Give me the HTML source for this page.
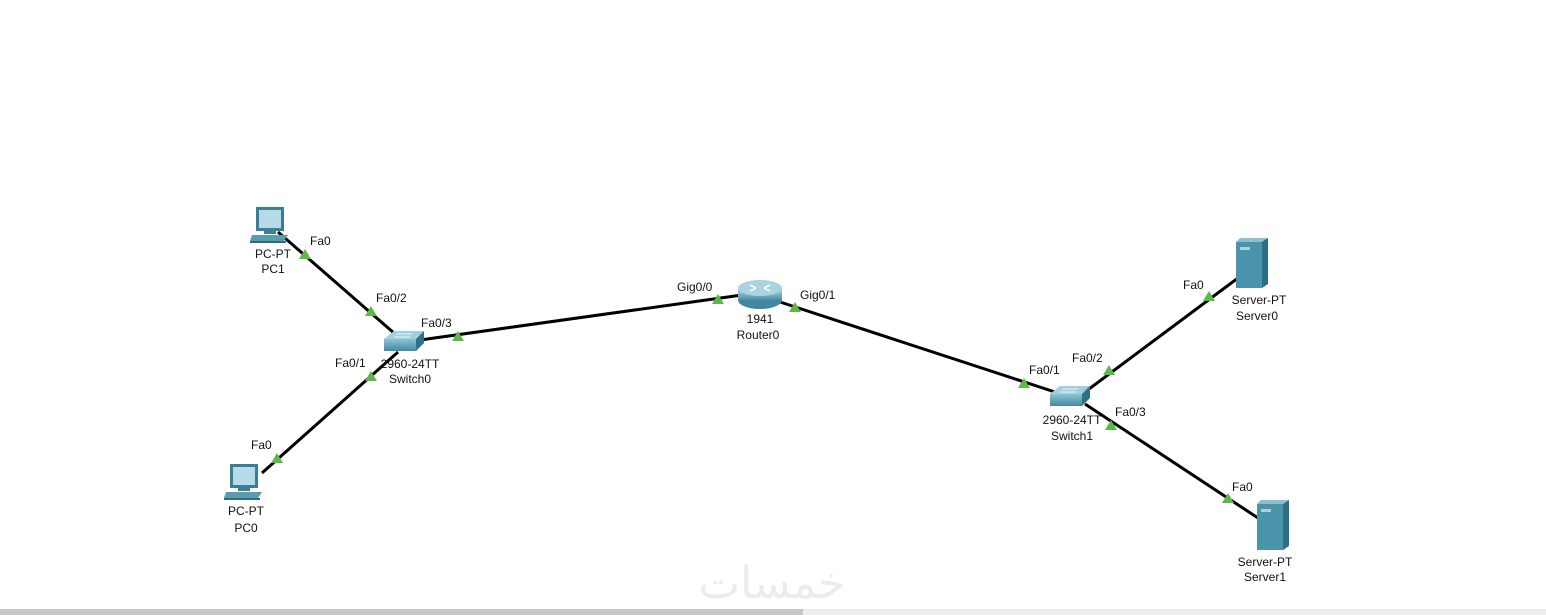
<!DOCTYPE html>
<html><head><meta charset="utf-8"><style>
html,body{margin:0;padding:0;background:#fff;}
svg{display:block;}
text{font-family:"Liberation Sans",Arial,sans-serif;font-size:12px;fill:#111;}
</style></head><body>
<svg width="1546" height="615" viewBox="0 0 1546 615">
<defs>
<linearGradient id="sw" x1="0" y1="0" x2="0" y2="1"><stop offset="0" stop-color="#8fc3d3"/><stop offset="1" stop-color="#3f8aa2"/></linearGradient>
<linearGradient id="rt" x1="0" y1="0" x2="0" y2="1"><stop offset="0" stop-color="#b9dbe5"/><stop offset="1" stop-color="#4b8fa5"/></linearGradient>
<g id="tri"><polygon points="-6,5 6,5 0,-5" fill="#5cb848"/></g>
<g id="pc">
<rect x="6" y="0" width="28" height="24" fill="#3a7f96"/>
<rect x="9" y="3" width="22" height="18" fill="#b7dbe6"/>
<rect x="14" y="24" width="12" height="3" fill="#3a7f96"/>
<polygon points="2,28 38,28 34,34 0,34" fill="#5a9bb0"/>
<rect x="0" y="34" width="36" height="2" fill="#2f6c80"/>
</g>
<g id="srv">
<polygon points="0,4 4,0 32,0 28,4" fill="#8cc0d0"/>
<rect x="0" y="4" width="26" height="46" fill="#4a93ab"/>
<polygon points="26,4 32,0 32,46 26,50" fill="#2b6f85"/>
<rect x="4" y="9" width="10" height="3" fill="#a8d2de"/>
</g>
<g id="swi">
<polygon points="0,8 10,0 40,0 32,8" fill="#9fd0de"/>
<rect x="0" y="8" width="32" height="12" fill="url(#sw)"/>
<polygon points="32,8 40,0 40,12 32,20" fill="#2f7188"/>
<path d="M12,3 h16 M10,6 h16" stroke="#e8f4f8" stroke-width="1"/>
</g>
</defs>
<g stroke="#000" stroke-width="3" fill="none">
<line x1="278" y1="232" x2="402" y2="340"/>
<line x1="420" y1="340" x2="742" y2="295"/>
<line x1="398" y1="352" x2="262" y2="473"/>
<line x1="780" y1="302" x2="1058" y2="393"/>
<line x1="1085" y1="392" x2="1238" y2="278"/>
<line x1="1085" y1="404" x2="1258" y2="518"/>
</g>
<use href="#pc" x="250" y="207"/>
<use href="#pc" x="224" y="464"/>
<use href="#swi" x="384" y="331"/>
<use href="#swi" x="1050" y="386"/>
<use href="#srv" x="1236" y="238"/>
<use href="#srv" x="1257" y="500"/>
<g>
<ellipse cx="760" cy="300" rx="22" ry="9" fill="#3f889f"/>
<rect x="738" y="288" width="44" height="12" fill="url(#rt)"/>
<ellipse cx="760" cy="288" rx="22" ry="8" fill="#a9d3df"/>
<path d="M750,285 l6,3 M770,285 l-6,3 M750,291 l6,-3 M770,291 l-6,-3" stroke="#fff" stroke-width="1.5"/>
</g>
<use href="#tri" x="305" y="254"/>
<use href="#tri" x="371" y="311"/>
<use href="#tri" x="458" y="336"/>
<use href="#tri" x="371" y="376"/>
<use href="#tri" x="277" y="458"/>
<use href="#tri" x="718" y="299"/>
<use href="#tri" x="795" y="307"/>
<use href="#tri" x="1024" y="383"/>
<use href="#tri" x="1109" y="370"/>
<use href="#tri" x="1209" y="296"/>
<use href="#tri" x="1111" y="425"/>
<use href="#tri" x="1228" y="498"/>
<text x="310" y="245">Fa0</text>
<text x="376" y="302">Fa0/2</text>
<text x="421" y="327">Fa0/3</text>
<text x="335" y="367">Fa0/1</text>
<text x="251" y="449">Fa0</text>
<text x="677" y="291">Gig0/0</text>
<text x="800" y="299">Gig0/1</text>
<text x="1029" y="374">Fa0/1</text>
<text x="1072" y="362">Fa0/2</text>
<text x="1183" y="289">Fa0</text>
<text x="1115" y="416">Fa0/3</text>
<text x="1232" y="491">Fa0</text>
<g text-anchor="middle">
<text x="273" y="258">PC-PT</text><text x="273" y="273">PC1</text>
<text x="246" y="515">PC-PT</text><text x="246" y="532">PC0</text>
<text x="410" y="368">2960-24TT</text><text x="410" y="383">Switch0</text>
<text x="760" y="323">1941</text><text x="758" y="339">Router0</text>
<text x="1072" y="424">2960-24TT</text><text x="1072" y="440">Switch1</text>
<text x="1259" y="304">Server-PT</text><text x="1257" y="320">Server0</text>
<text x="1265" y="566">Server-PT</text><text x="1265" y="581">Server1</text>
</g>
<text x="772" y="598" text-anchor="middle" style="font-size:44px;fill:#ececec;font-family:'DejaVu Sans',sans-serif">خمسات</text>
<rect x="0" y="609" width="803" height="6" fill="#c8c8c8"/>
<rect x="803" y="609" width="743" height="6" fill="#ededed"/>
</svg>
</body></html>
